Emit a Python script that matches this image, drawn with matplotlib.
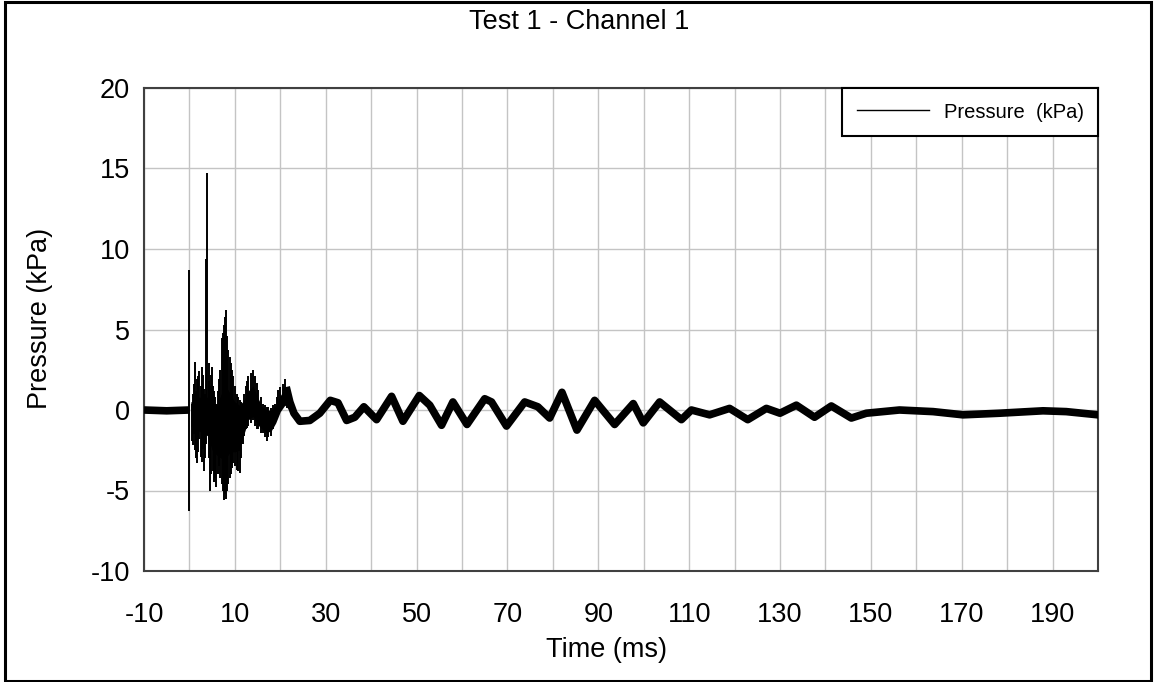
import matplotlib
matplotlib.use("Agg")
import matplotlib.pyplot as plt
from matplotlib.lines import Line2D
from matplotlib.patches import Rectangle
from matplotlib.ticker import MultipleLocator, FixedLocator

plt.rcParams['font.family'] = ['Liberation Sans', 'DejaVu Sans']

# ---- data ----
# pre-trigger baseline (ms, kPa)
base_t = [-10.0, -5.0, 0.0]
base_p = [0.0, -0.05, 0.0]

# burst of spikes after trigger: time (ms), max (kPa), min (kPa)
spike_t = [0.0, 0.5, 0.7, 0.9, 1.2, 1.45, 1.7, 1.95, 2.2, 2.45, 2.7, 2.9, 3.1, 3.35,
           3.6, 3.8, 4.2, 4.35, 4.5, 4.75, 5.0, 5.2, 5.4, 5.65, 5.9, 6.2, 6.5, 6.8,
           7.1, 7.35, 7.6, 7.8, 8.0, 8.3, 8.6, 8.85, 9.1, 9.4, 9.7, 10.05, 10.4,
           10.75, 11.1, 11.45, 11.8, 12.1, 12.4, 12.7, 13.0, 13.5, 13.9, 14.4, 14.8,
           15.2, 15.7, 16.1, 16.6, 17.0, 17.4, 17.9, 18.4, 18.8, 19.2, 19.6, 20.0,
           20.5, 21.0, 21.5]
spike_hi = [8.7, 0.4, 1.0, 1.6, 3.0, 1.2, 1.9, 2.1, 2.4, 1.5, 2.7, 2.2, 1.3, 1.0,
            9.4, 14.7, 2.9, 1.8, 1.5, 2.2, 2.7, 1.5, 1.2, 0.8, 0.4, 1.2, 1.9, 2.5,
            4.5, 4.8, 5.3, 5.8, 6.2, 4.6, 3.7, 3.3, 2.9, 2.5, 2.1, 1.5, 1.0,
            0.8, 0.6, 0.5, 0.4, 1.0, 1.5, 1.8, 2.1, 2.3, 2.5, 2.1, 1.7,
            1.25, 0.8, 0.4, 0.3, 0.2, 0.2, 0.1, 0.3, 0.4, 0.8, 1.25, 1.4,
            1.6, 1.9, 1.3]
spike_lo = [-6.3, -1.9, -2.2, -1.5, -2.5, -3.0, -3.3, -2.6, -1.8, -2.9, -3.2, -2.4, -3.8, -3.0,
            -2.1, -0.8, -1.8, -3.0, -5.0, -4.0, -2.0, -3.8, -4.5, -4.2, -4.8, -4.0, -3.5, -4.2,
            -4.6, -5.0, -5.6, -5.2, -5.5, -5.0, -4.6, -4.2, -4.0, -3.6, -3.3, -3.5, -3.7,
            -3.8, -3.9, -3.0, -2.1, -1.6, -1.2, -1.1, -1.0, -0.8, -0.6, -1.0, -1.2,
            -1.2, -1.4, -1.45, -1.7, -1.9, -1.7, -1.6, -1.2, -0.8, -0.5, -0.2, 0.0,
            0.3, 0.4, 0.1]

# solid core of the burst: time (ms), upper and lower edge (kPa)
core_t = [0.3, 2.0, 4.0, 5.0, 6.0, 7.0, 8.0, 9.0, 10.0, 11.0, 12.0, 13.0, 14.0,
          15.0, 16.0, 17.0, 18.0, 19.0, 20.0, 21.0, 22.0]
core_hi = [0.5, 0.8, 0.8, 0.5, 0.3, 1.0, 1.5, 1.0, 0.5, 0.3, 0.6, 1.2, 1.5,
           0.8, 0.2, 0.0, 0.0, 0.3, 0.9, 1.3, 1.0]
core_lo = [-1.0, -1.3, -1.6, -2.5, -2.8, -3.0, -3.0, -2.6, -2.6, -2.5, -1.5, -0.6, -0.4,
           -0.9, -1.2, -1.4, -1.3, -0.8, -0.1, 0.3, 0.0]

# decaying oscillation (centre of the noisy band)
trace_t = [21.5, 22.1, 23.0, 24.3, 26.5, 28.7, 31.0, 32.7, 34.6, 36.4, 38.4, 41.2,
           44.5, 47.0, 50.6, 52.9, 55.5, 58.0, 61.1, 65.0, 66.5, 69.8, 73.8, 76.7,
           79.3, 82.0, 85.3, 89.2, 93.6, 97.7, 99.9, 103.5, 108.3, 110.5, 114.5,
           118.9, 122.9, 127.0, 130.0, 133.6, 137.6, 141.3, 145.7, 149.0, 156.3,
           163.7, 170.3, 178.3, 187.9, 193.0, 200.0]
trace_p = [1.2, 0.5, -0.2, -0.7, -0.65, -0.2, 0.6, 0.45, -0.65, -0.45, 0.2, -0.6,
           0.85, -0.7, 0.9, 0.3, -0.95, 0.5, -0.9, 0.7, 0.5, -1.0, 0.5, 0.2,
           -0.5, 1.1, -1.25, 0.6, -0.9, 0.4, -0.8, 0.5, -0.6, 0.0, -0.3,
           0.1, -0.6, 0.1, -0.2, 0.3, -0.45, 0.25, -0.5, -0.2, 0.0,
           -0.1, -0.3, -0.2, -0.05, -0.1, -0.3]

x_labels = [-10, 10, 30, 50, 70, 90, 110, 130, 150, 170, 190]
y_ticks = [-10, -5, 0, 5, 10, 15, 20]

# ---- figure ----
W, H = 1158, 682
fig = plt.figure(figsize=(W / 100, H / 100), dpi=100)
ax = fig.add_axes([144 / W, 1 - 571 / H, (1098 - 144) / W, (571 - 88) / H])

ax.plot(base_t, base_p, color='black', lw=5.5, solid_capstyle='butt', zorder=3)
ax.fill_between(core_t, core_lo, core_hi, color='black', lw=0, zorder=3)
ax.vlines(spike_t, spike_lo, spike_hi, color='black', lw=1.4, zorder=3)
ax.plot(trace_t, trace_p, color='black', lw=5.5, solid_joinstyle='round', zorder=3)

ax.set_xlim(-10, 200)
ax.set_ylim(-10, 20)
ax.xaxis.set_major_locator(FixedLocator(x_labels))
ax.xaxis.set_minor_locator(MultipleLocator(10))
ax.set_xticklabels([str(v) for v in x_labels])
ax.yaxis.set_major_locator(FixedLocator(y_ticks))
ax.set_yticklabels([str(v) for v in y_ticks])
ax.grid(True, which='both', color='#c4c4c4', lw=1.0, zorder=0)
ax.set_axisbelow(True)
ax.tick_params(which='both', length=0, labelsize=19.5)
ax.tick_params(axis='x', pad=22)
ax.tick_params(axis='y', pad=10)
for s in ax.spines.values():
    s.set_color('#404040')
    s.set_linewidth(1.5)

handle = Line2D([], [], color='black', lw=1.0)
leg = ax.legend([handle], ['Pressure  (kPa)'], loc='upper right',
                bbox_to_anchor=(1.0, 1.0), borderaxespad=0, fontsize=14.5,
                handlelength=3.6, handletextpad=0.7, borderpad=0.72,
                fancybox=False, framealpha=1.0, edgecolor='black')
leg.get_frame().set_linewidth(1.5)

fig.text(0.5, 1 - 22 / H, 'Test 1 - Channel 1', ha='center', va='center', fontsize=19.5)
fig.text(606 / W, 1 - 650 / H, 'Time (ms)', ha='center', va='center', fontsize=19.5)
fig.text(40 / W, 1 - 318 / H, 'Pressure (kPa)', ha='center', va='center',
         rotation=90, fontsize=19.5)

fig.patches.append(Rectangle((5 / W, 1 / H), (1151 - 5) / W, (680 - 1) / H,
                             transform=fig.transFigure, fill=False,
                             edgecolor='black', lw=2.2))

fig.savefig('out.png', dpi=100)
